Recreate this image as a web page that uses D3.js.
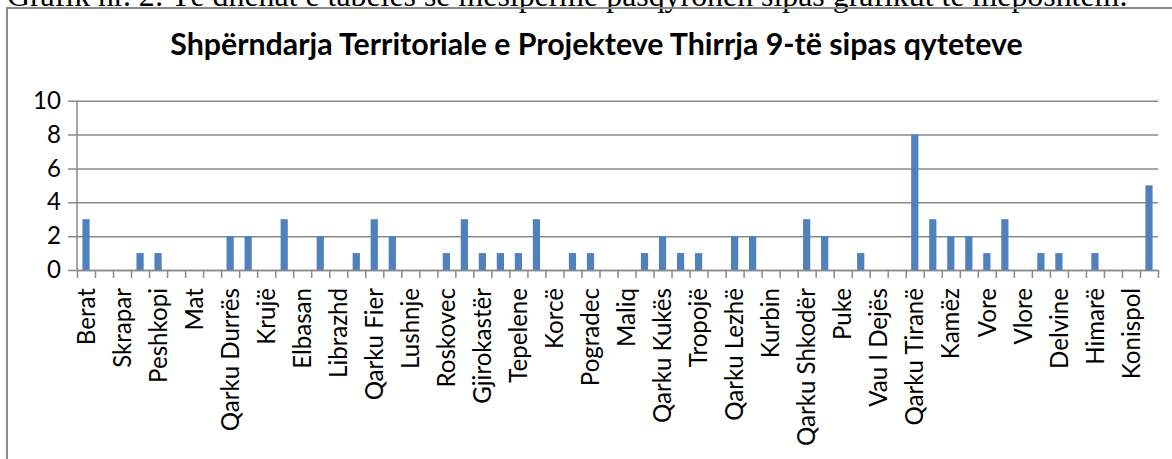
<!DOCTYPE html>
<html>
<head>
<meta charset="utf-8">
<script src="https://cdn.jsdelivr.net/npm/d3@7"></script>
<style>
  html, body { margin: 0; padding: 0; background: #fff; overflow: hidden; }
  svg { display: block; }
</style>
</head>
<body>
<svg id="chart"></svg>
<script>
// Chart data
const headerText = 'Grafik nr. 2: Të dhënat e tabelës së mësipërme pasqyrohen sipas grafikut të mëposhtëm.';
const titleText = 'Shpërndarja Territoriale e Projekteve Thirrja 9-të sipas qyteteve';

const categories = [
  'Berat', 'Kuçovë', 'Skrapar', 'Qarku Dibër', 'Peshkopi', 'Bulqizë', 'Mat', 'Klos',
  'Qarku Durrës', 'Durrës', 'Krujë', 'Qarku Elbasan', 'Elbasan', 'Gramsh', 'Librazhd', 'Peqin',
  'Qarku Fier', 'Fier', 'Lushnje', 'Patos', 'Roskovec', 'Qarku Gjirokastër', 'Gjirokastër', 'Përmet',
  'Tepelene', 'Qarku Korçë', 'Korcë', 'Kolonjë', 'Pogradec', 'Devoll', 'Maliq', 'Voskopojë',
  'Qarku Kukës', 'Kukës', 'Tropojë', 'Has', 'Qarku Lezhë', 'Lezhë', 'Kurbin', 'Mirditë',
  'Qarku Shkodër', 'Shkodër', 'Puke', 'Malësi e Madhe', 'Vau I Dejës', 'Fushë Arrëz', 'Qarku Tiranë', 'Tiranë',
  'Kamëz', 'Kavajë', 'Vore', 'Qarku Vlorë', 'Vlore', 'Sarandë', 'Delvine', 'Selenicë',
  'Himarë', 'Orikum', 'Konispol', 'Finiq'
];

const projects = [
  3, 0, 0, 1, 1, 0, 0, 0,
  2, 2, 0, 3, 0, 2, 0, 1,
  3, 2, 0, 0, 1, 3, 1, 1,
  1, 3, 0, 1, 1, 0, 0, 1,
  2, 1, 1, 0, 2, 2, 0, 0,
  3, 2, 0, 1, 0, 0, 8, 3,
  2, 2, 1, 3, 0, 1, 1, 0,
  1, 0, 0, 5
];

const yTicks = [0, 2, 4, 6, 8, 10];

// Layout
const W = 1172, H = 459;
const plot = { left: 77, right: 1158, top: 100.7, bottom: 270 };
const gridColor = '#8a8a8a';
const barColor = '#4f81bd';
const labelFont = 'Lato, "Open Sans", sans-serif';

const svg = d3.select('#chart').attr('width', W).attr('height', H);

// fit a text element to a target width by scaling its font size
function fitWidth(sel, target) {
  const w = sel.node().getComputedTextLength();
  const fs = parseFloat(sel.attr('font-size'));
  sel.attr('font-size', fs * target / w);
}

// Document line above the chart (clipped at top)
const header = svg.append('text')
  .attr('x', 7).attr('y', 6)
  .attr('font-family', '"Liberation Serif", "Times New Roman", serif')
  .attr('font-size', 24)
  .attr('fill', '#000')
  .text(headerText);
fitWidth(header, 1121);

// Chart frame (only left and top edges are visible)
svg.append('path')
  .attr('d', `M7,${H + 5} V8 H${W + 5}`)
  .attr('fill', 'none')
  .attr('stroke', '#8c8c8c')
  .attr('stroke-width', 2);

// Title
const title = svg.append('text')
  .attr('x', 596.5).attr('y', 55)
  .attr('text-anchor', 'middle')
  .attr('font-family', labelFont)
  .attr('font-weight', 'bold')
  .attr('font-size', 28)
  .attr('fill', '#000')
  .text(titleText);
fitWidth(title, 853);

// Label font size, matched on a reference label
const probe = svg.append('text')
  .attr('font-family', labelFont)
  .attr('font-size', 24)
  .text('Qarku Shkodër');
fitWidth(probe, 158);
const labelSize = +probe.attr('font-size');
probe.remove();

// Scales
const x = d3.scaleBand()
  .domain(categories)
  .range([plot.left, plot.right])
  .paddingInner(0.6)
  .paddingOuter(0.3);

const xEdge = d3.scaleLinear()
  .domain([0, categories.length])
  .range([plot.left, plot.right]);

const y = d3.scaleLinear()
  .domain([0, 10])
  .range([plot.bottom, plot.top]);

// Gridlines + y ticks
const yAxis = svg.append('g')
  .attr('transform', `translate(${plot.left},0)`)
  .call(d3.axisLeft(y)
    .tickValues(yTicks)
    .tickSize(-(plot.right - plot.left))
    .tickPadding(16)
    .tickFormat(d3.format('d')));
yAxis.select('.domain').remove();
yAxis.selectAll('.tick line')
  .attr('x1', -9)
  .attr('stroke', gridColor)
  .attr('stroke-width', 1.5);
yAxis.selectAll('.tick text')
  .attr('font-family', labelFont)
  .attr('font-size', labelSize)
  .attr('fill', '#000');

// Bars
svg.append('g')
  .selectAll('rect')
  .data(projects)
  .enter()
  .append('rect')
  .attr('x', (d, i) => x(categories[i]))
  .attr('width', x.bandwidth())
  .attr('y', d => y(d))
  .attr('height', d => y(0) - y(d))
  .attr('fill', barColor);

// Vertical axis line
svg.append('line')
  .attr('x1', plot.left).attr('x2', plot.left)
  .attr('y1', plot.top).attr('y2', plot.bottom)
  .attr('stroke', gridColor)
  .attr('stroke-width', 1.5);

// X axis: tick marks on category boundaries
const xTicks = svg.append('g')
  .attr('transform', `translate(0,${plot.bottom})`)
  .call(d3.axisBottom(xEdge)
    .tickValues(d3.range(categories.length + 1))
    .tickSize(8)
    .tickSizeOuter(0)
    .tickFormat(''));
xTicks.selectAll('line, path')
  .attr('stroke', gridColor)
  .attr('stroke-width', 1.5);

// X axis labels: every other category, rotated
const xLabels = svg.append('g')
  .attr('transform', `translate(0,${plot.bottom})`)
  .call(d3.axisBottom(x)
    .tickSize(0)
    .tickFormat((d, i) => (i % 2 === 0 ? d : '')));
xLabels.select('.domain').remove();
xLabels.selectAll('.tick text')
  .attr('font-family', labelFont)
  .attr('font-size', labelSize)
  .attr('fill', '#000')
  .attr('transform', 'rotate(-90)')
  .attr('text-anchor', 'end')
  .attr('x', -18)
  .attr('y', 0)
  .attr('dy', '0.36em');
</script>
</body>
</html>
